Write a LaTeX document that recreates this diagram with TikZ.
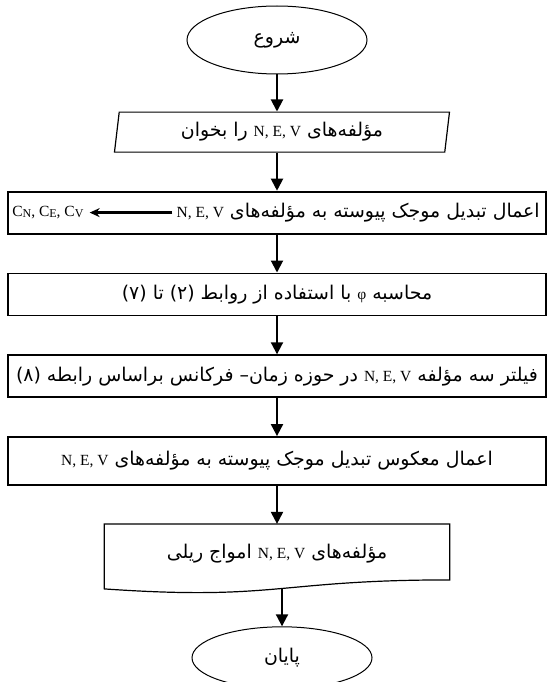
\documentclass[tikz,border=0pt]{standalone}
\usepackage{fontspec}
\setmainfont{Liberation Serif}
\newfontfamily\fafont[Script=Arabic,Scale=1.22]{DejaVu Sans}
\TeXXeTstate=1
\usetikzlibrary{positioning,shapes.geometric,arrows.meta,calc}
\newcommand{\fs}{\fontsize{15.5pt}{18pt}\selectfont}
\newcommand{\fa}[1]{{\fafont\beginR #1\endR}}
\newcommand{\nev}{{\rmfamily\beginL N, E, V\endL}}
\newcommand{\csub}[1]{C{\fontsize{12pt}{12pt}\selectfont\raisebox{-1.2pt}{#1}}}

\begin{document}
\begin{tikzpicture}[node distance=38pt,every node/.style={font=\fs},
    term/.style={ellipse,draw,line width=1pt,minimum width=180pt,minimum height=68pt,inner sep=0pt},
    io/.style={trapezium,trapezium left angle=76,trapezium right angle=104,trapezium stretches body=true,draw,line width=1.2pt,minimum width=335pt,minimum height=40pt,inner sep=0pt},
    proc/.style={rectangle,draw,line width=1.8pt,minimum width=538pt,minimum height=42pt,inner sep=0pt},
    arr/.style={line width=2pt,-{Triangle[width=12pt,length=12pt]}}]
   \useasboundingbox (0,0) rectangle (552pt,-682pt);
   \node[term] (start) at (277pt,-40pt) {\fa{شروع}};
   \node[io,below=37pt of start,xshift=5pt] (read) {\fa{مؤلفه^^^^200cهای \nev{} را بخوان}};
   \node[proc,below=of read,xshift=-5pt] (cwt) {};
   \node[anchor=east,inner sep=1pt] (cwtfa) at ($(cwt.east)+(-6pt,0)$) {\fa{اعمال تبدیل موجک پیوسته به مؤلفه^^^^200cهای \nev}};
   \node[anchor=west,inner sep=1pt] (cwtc) at ($(cwt.west)+(4pt,0)$) {\csub{N}, \csub{E}, \csub{V}};
   \draw[line width=2.4pt,-{Stealth[length=10pt,width=9pt]},shorten >=5pt,shorten <=3pt] (cwtfa) -- (cwtc);
   \node[proc,below=of cwt] (phi) {\fa{محاسبه {\rmfamily φ} با استفاده از روابط (۲) تا (۷)}};
   \node[proc,below=of phi] (filt) {\fa{فیلتر سه مؤلفه \nev{} در حوزه زمان– فرکانس براساس رابطه (۸)}};
   \node[proc,below=of filt,minimum height=48pt] (icwt) {\fa{اعمال معکوس تبدیل موجک پیوسته به مؤلفه^^^^200cهای \nev}};
   \node[below=of icwt,minimum width=345pt,minimum height=60pt,inner sep=0pt] (doc) {\fa{مؤلفه^^^^200cهای \nev{} امواج ریلی}};
   \draw[line width=1.2pt] (doc.north west) -- (doc.north east) -- ++(0,-56pt)
     .. controls ($(doc.north)+(0,-56pt)$) and ($(doc.north)+(0,-77pt)$) .. ($(doc.north west)+(0,-65pt)$) -- cycle;
   \coordinate (docb) at ($(doc.north)+(5pt,-65pt)$);
   \node[term,below=42pt of doc,xshift=5pt,minimum height=62pt] (stop) {\fa{پایان}};
    \path[arr]
    (start) edge (start |- read.north)
    (start |- read.south) edge (cwt)
    (cwt) edge (phi)
    (phi) edge (filt)
    (filt) edge (icwt)
    (icwt) edge (doc)
    (docb) edge (stop);
\end{tikzpicture}
\end{document}
